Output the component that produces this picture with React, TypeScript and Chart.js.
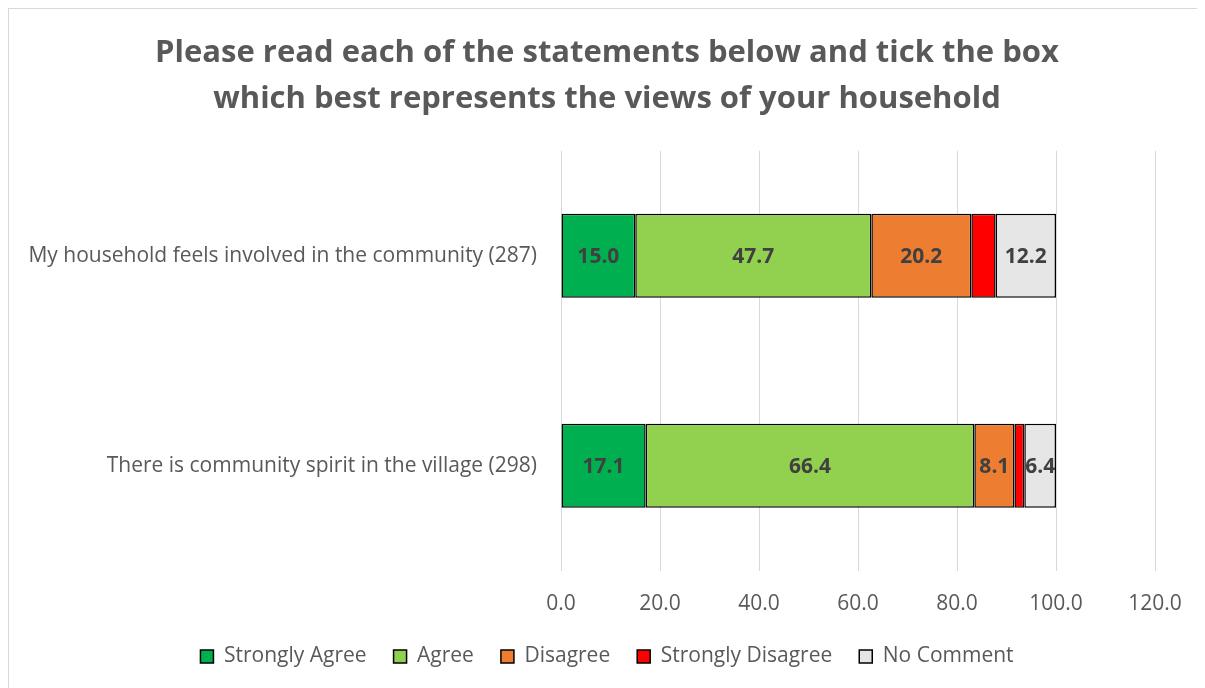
import React, { useEffect, useRef } from "react";
import { Chart, registerables } from "chart.js";

Chart.register(...registerables);

const categories = [
  "My household feels involved in the community (287)",
  "There is community spirit in the village (298)",
];
const seriesNames = ["Strongly Agree", "Agree", "Disagree", "Strongly Disagree", "No Comment"];
const stronglyAgree = [15.0, 17.1];
const agree = [47.7, 66.4];
const disagree = [20.2, 8.1];
const stronglyDisagree = [4.9, 2.0];
const noComment = [12.2, 6.4];
const seriesColors = ["#00B050", "#92D050", "#ED7D31", "#FF0000", "#E7E6E6"];
const showLabels = [true, true, true, false, true];
const titleLines = [
  "Please read each of the statements below and tick the box",
  "which best represents the views of your household",
];

const FONT = "'Open Sans', sans-serif";

const labelPlugin = {
  id: "segLabels",
  afterDatasetsDraw(chart: any) {
    const ctx = chart.ctx;
    ctx.save();
    ctx.font = `bold 21px ${FONT}`;
    ctx.fillStyle = "#404040";
    ctx.textAlign = "center";
    ctx.textBaseline = "middle";
    chart.data.datasets.forEach((ds: any, di: number) => {
      if (!showLabels[di]) return;
      const meta = chart.getDatasetMeta(di);
      meta.data.forEach((el: any, i: number) => {
        const { x, y, base } = el.getProps(["x", "y", "base"], true);
        ctx.fillText(Number(ds.data[i]).toFixed(1), (x + base) / 2, y + 1);
      });
    });
    ctx.restore();
  },
};

export default function App() {
  const ref = useRef<HTMLCanvasElement>(null);
  useEffect(() => {
    const values = [stronglyAgree, agree, disagree, stronglyDisagree, noComment];
    const chart = new Chart(ref.current!, {
      type: "bar",
      data: {
        labels: categories,
        datasets: values.map((v, i) => ({
          label: seriesNames[i],
          data: v,
          backgroundColor: seriesColors[i],
          borderColor: "#000000",
          borderWidth: 1.5,
          borderSkipped: false,
          barPercentage: 0.5,
          categoryPercentage: 0.8,
        })),
      },
      options: {
        indexAxis: "y",
        animation: false,
        responsive: true,
        maintainAspectRatio: false,
        layout: { padding: { left: 0, right: 0, top: 0, bottom: 11 } },
        scales: {
          x: {
            stacked: true,
            min: 0,
            max: 120,
            ticks: {
              stepSize: 20,
              color: "#595959",
              font: { family: FONT, size: 21 },
              padding: 21,
              callback: (v: any) => Number(v).toFixed(1),
            },
            grid: { color: "#D9D9D9", lineWidth: 1, drawTicks: false },
            border: { display: false },
            afterFit: (s: any) => {
              s.height = s.height - 19;
            },
          },
          y: {
            stacked: true,
            ticks: {
              color: "#595959",
              font: { family: FONT, size: 21 },
              padding: 24,
            },
            grid: { display: false, drawTicks: false },
            border: { display: false },
            afterFit: (s: any) => {
              s.width = 552;
            },
          },
          yRight: {
            type: "category",
            position: "right",
            display: true,
            ticks: { display: false },
            grid: { display: false, drawTicks: false },
            border: { display: false },
            afterFit: (s: any) => {
              s.width = 50;
            },
          },
        },
        plugins: {
          title: {
            display: true,
            text: titleLines,
            color: "#595959",
            font: { family: FONT, size: 31, weight: "bold", lineHeight: 1.48 },
            padding: { top: 21, bottom: 29 },
          },
          legend: {
            position: "bottom",
            labels: {
              color: "#595959",
              font: { family: FONT, size: 21 },
              boxWidth: 13,
              boxHeight: 13,
              padding: 27,
            },
          },
          tooltip: { enabled: false },
        },
      },
      plugins: [labelPlugin],
    });
    return () => chart.destroy();
  }, []);
  return (
    <div
      style={{
        position: "relative",
        width: 1197,
        height: 680,
        borderTop: "1px solid #D9D9D9",
        borderLeft: "1px solid #D9D9D9",
        boxSizing: "border-box",
        background: "#fff",
      }}
    >
      <canvas ref={ref} />
    </div>
  );
}
